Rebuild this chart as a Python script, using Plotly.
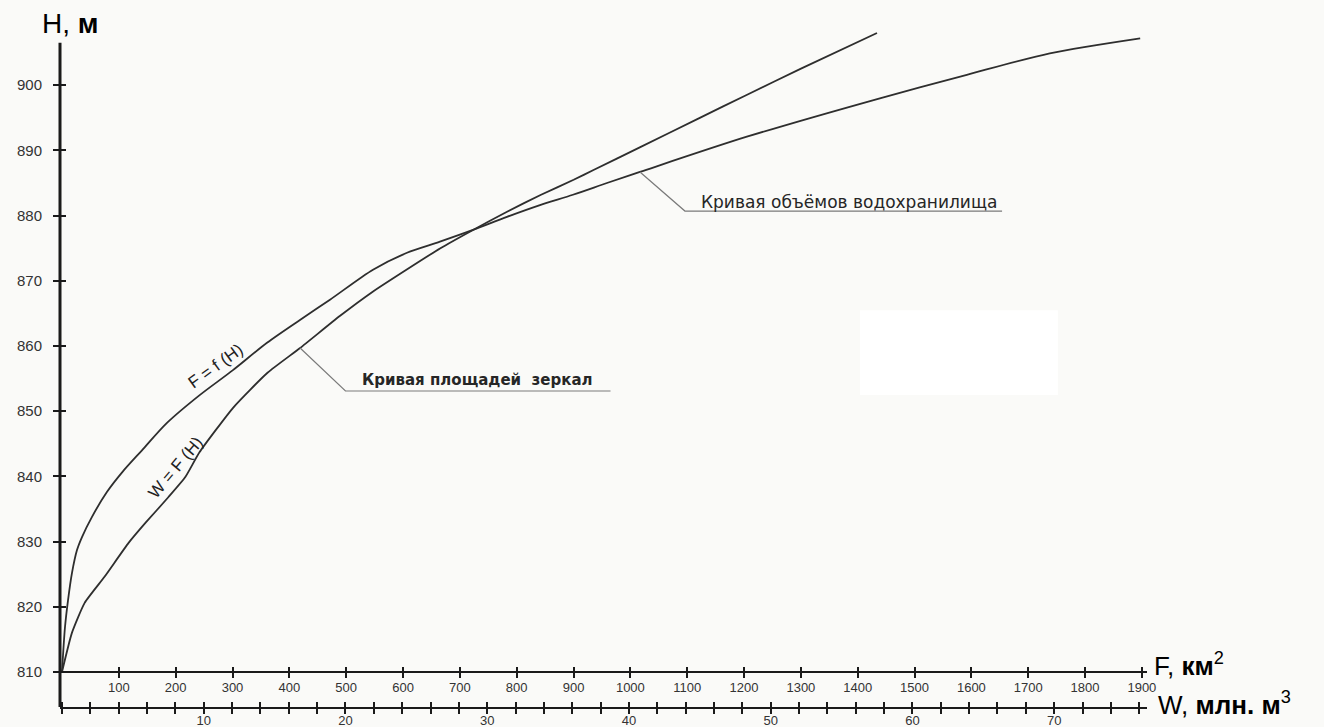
import plotly.graph_objects as go

# Mirror-area curve F = f(H): surface area (km²) against water level (m)
F_AREA = [0, 5.3, 10.6, 17.6, 26.4, 35.2, 52.8, 79.0, 106.5, 140.7, 184.7, 242.8,
          300.8, 360.7, 418.7, 471.5, 547.2, 607.0, 665.0, 723.1, 782.9, 841.0,
          899.0, 958.8, 1016.9, 1205, 1439, 1592, 1738, 1897]
H_AREA = [810, 816.9, 821.0, 825.2, 828.7, 830.7, 833.8, 837.6, 840.7, 844.0, 848.2,
          852.5, 856.3, 860.5, 864.0, 867.1, 871.7, 874.3, 876.0, 877.8, 879.8,
          881.6, 883.2, 885.0, 886.7, 892.1, 898.0, 901.6, 904.9, 907.2]

# Volume curve W = F(H): storage (million m³) against water level (m)
W_VOL = [0, 0.7, 1.6, 3.0, 4.7, 5.9, 7.5, 8.7, 9.7, 12.1, 14.5, 16.8, 19.6, 21.9,
         24.3, 26.7, 29.0, 31.4, 33.8, 36.1, 37.5, 40.8, 45.0, 48.3, 52.1, 57.5]
H_VOL = [810, 816.0, 820.6, 824.6, 829.8, 832.9, 836.8, 839.9, 843.7, 850.6, 855.9,
         859.7, 864.6, 868.3, 871.7, 875.0, 877.8, 880.6, 883.2, 885.5, 887.0,
         890.5, 895.0, 898.5, 902.5, 908.0]

H_TICKS = list(range(810, 901, 10))
F_TICKS = list(range(100, 2000, 100))
W_TICKS = list(range(10, 71, 10))

H_RANGE = [804.63, 908.47]
H_AXIS_TOP = 906.5
H_BASE = 810
F_RANGE = [-3.5, 1909]
W_RANGE = [-0.14, 76.55]

INK = "#1a1a1a"
CURVE = "#2e2e2e"
LABEL = "#333333"
BG = "#fafaf8"

# the F axis sits on the H = 810 level, above the W axis at the bottom edge
F_POS = (H_BASE - H_RANGE[0]) / (H_RANGE[1] - H_RANGE[0])

fig = go.Figure()
fig.add_trace(go.Scatter(x=F_AREA, y=H_AREA, xaxis="x", yaxis="y", mode="lines",
                         line=dict(color=CURVE, width=1.8, shape="spline",
                                   smoothing=0.8),
                         hoverinfo="skip", showlegend=False))
fig.add_trace(go.Scatter(x=W_VOL, y=H_VOL, xaxis="x2", yaxis="y", mode="lines",
                         line=dict(color=CURVE, width=1.8, shape="spline",
                                   smoothing=0.5),
                         hoverinfo="skip", showlegend=False))
# empty traces so the tick-only overlay axes are laid out
fig.add_trace(go.Scatter(x=[], y=[], xaxis="x3", yaxis="y2", showlegend=False))
fig.add_trace(go.Scatter(x=[], y=[], xaxis="x4", yaxis="y2", showlegend=False))

tick_font = dict(family="Liberation Sans, Arial, sans-serif", size=13, color=LABEL)
plain = dict(showgrid=False, zeroline=False, fixedrange=True, automargin=False)

fig.update_layout(
    width=1324, height=727, autosize=False,
    margin=dict(l=60, r=177, t=30, b=20, autoexpand=False),
    paper_bgcolor=BG, plot_bgcolor=BG,
    xaxis=dict(range=F_RANGE, anchor="free", position=F_POS, side="bottom",
               showline=True, linecolor=INK, linewidth=2,
               tickmode="array", tickvals=F_TICKS, ticks="outside", ticklen=5,
               tickwidth=1.5, tickcolor=INK, tickfont=dict(tick_font, size=13),
               ticklabelstandoff=-2, **plain),
    xaxis2=dict(range=W_RANGE, overlaying="x", anchor="y", side="bottom",
                showline=True, linecolor=INK, linewidth=2,
                tickmode="array", tickvals=W_TICKS, ticks="outside", ticklen=5,
                tickwidth=1.5, tickcolor=INK, tickfont=dict(tick_font, size=13),
                ticklabelstandoff=-5,
                minor=dict(tickmode="linear", tick0=0, dtick=2, ticks="outside",
                           ticklen=5, tickwidth=1.5, tickcolor=INK),
                **plain),
    xaxis3=dict(range=F_RANGE, overlaying="x", anchor="free", position=F_POS,
                side="bottom", showline=False, tickmode="array", tickvals=F_TICKS,
                ticks="inside", ticklen=5, tickwidth=1.5, tickcolor=INK,
                showticklabels=False, **plain),
    xaxis4=dict(range=W_RANGE, overlaying="x", anchor="free", position=0,
                side="bottom", showline=False, tickmode="array", tickvals=W_TICKS,
                ticks="inside", ticklen=5, tickwidth=1.5, tickcolor=INK,
                showticklabels=False,
                minor=dict(tickmode="linear", tick0=0, dtick=2, ticks="inside",
                           ticklen=5, tickwidth=1.5, tickcolor=INK),
                **plain),
    yaxis=dict(range=H_RANGE, anchor="free", position=0, showline=False,
               tickmode="array", tickvals=H_TICKS, ticks="outside", ticklen=7,
               tickwidth=1.5, tickcolor=INK, ticklabelstandoff=8,
               tickfont=dict(tick_font, size=15), **plain),
    yaxis2=dict(range=H_RANGE, overlaying="y", anchor="free", position=0,
                showline=False, tickmode="array", tickvals=H_TICKS, ticks="inside",
                ticklen=5, tickwidth=1.5, tickcolor=INK, showticklabels=False,
                **plain),
)

shapes = [
    # pale blank patch in the right part of the field
    dict(type="rect", xref="paper", yref="paper", x0=0.736, x1=0.918,
         y0=0.461, y1=0.586, fillcolor="#ffffff", line=dict(width=0),
         layer="below"),
    # vertical H axis, running down to the W axis
    dict(type="line", xref="paper", yref="y", x0=0, x1=0,
         y0=H_RANGE[0], y1=H_AXIS_TOP, line=dict(color=INK, width=3)),
    # leader for the mirror-area caption (from a point of the W curve)
    dict(type="path", xref="x2", yref="y",
         path=f"M {W_VOL[11]},{H_VOL[11]} L 20.0,853.1 L 38.7,853.1",
         line=dict(color="#7a7a7a", width=1.2)),
    # leader for the reservoir-volume caption (from a point of the F curve)
    dict(type="path", xref="x", yref="y",
         path=f"M {F_AREA[24]},{H_AREA[24]} L 1096,880.7 L 1654,880.7",
         line=dict(color="#7a7a7a", width=1.2)),
]
fig.update_layout(shapes=shapes)

big = dict(family="Liberation Sans, Arial, sans-serif", color="#000000")
curve_font = dict(family="Liberation Sans, Arial, sans-serif", size=17, color="#222")
annotations = [
    dict(text="H, <b>м</b>", xref="paper", yref="paper", x=-0.0184, y=1.0103,
         xanchor="left", yanchor="middle", showarrow=False, font=dict(big, size=28)),
    dict(text="F, <b>км</b><sup>2</sup>", xref="paper", yref="paper", x=1.0046,
         y=0.0635, xanchor="left", yanchor="middle", showarrow=False,
         font=dict(big, size=26)),
    dict(text="W, <b>млн. м</b><sup>3</sup>", xref="paper", yref="paper", x=1.0083,
         y=0.0059, xanchor="left", yanchor="middle", showarrow=False,
         font=dict(big, size=26)),
    dict(text="F = f (H)", xref="paper", yref="paper", x=(215 - 60) / 1087,
         y=(707 - 366) / 677, xanchor="center", yanchor="middle", textangle=-36,
         showarrow=False, font=curve_font),
    dict(text="W = F (H)", xref="paper", yref="paper", x=(176 - 60) / 1087,
         y=(707 - 468) / 677, xanchor="center", yanchor="middle", textangle=-50,
         showarrow=False, font=curve_font),
    dict(text="<b>Кривая площадей\u00a0 зеркал</b>", xref="x2", yref="y",
         x=21.0, y=854.8, xanchor="left", yanchor="middle", showarrow=False,
         font=dict(family="DejaVu Sans, sans-serif", size=15, color="#262626")),
    dict(text="Кривая объёмов водохранилища", xref="x", yref="y",
         x=1121, y=882.1, xanchor="left", yanchor="middle", showarrow=False,
         font=dict(family="DejaVu Sans, sans-serif", size=17, color="#262626")),
]
fig.update_layout(annotations=annotations)

fig.write_html("out.html")
